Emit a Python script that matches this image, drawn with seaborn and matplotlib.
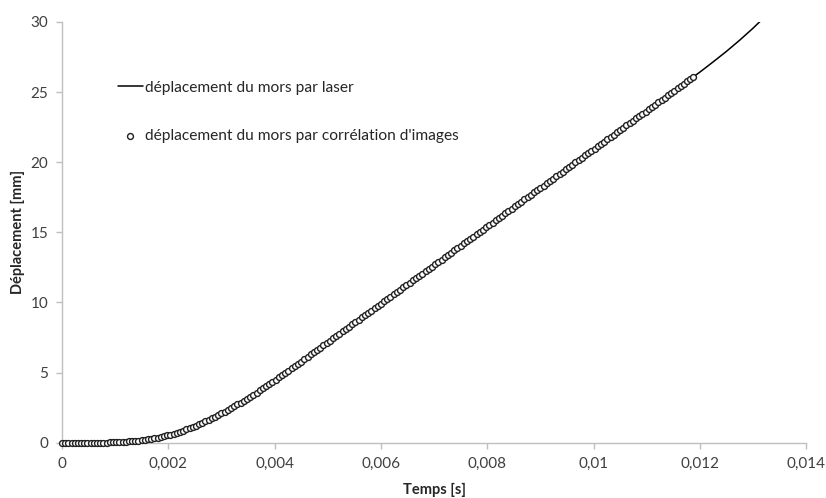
import numpy as np
import pandas as pd
import seaborn as sns
import matplotlib.pyplot as plt
from matplotlib.ticker import FuncFormatter

# laser measurement of the jaw displacement (time in ms, displacement in mm)
laser_t_ms = [0.0, 0.6, 1.0, 1.5, 2.0, 2.5, 3.0, 3.5, 4.0, 4.5, 5.0, 6.0, 7.0, 8.0,
              9.0, 10.0, 11.0, 12.0, 12.25, 12.5, 12.75, 13.0, 13.15]
laser_d = [0.0, 0.0, 0.03, 0.18, 0.54, 1.19, 2.09, 3.19, 4.45, 5.79, 7.17, 9.92, 12.67, 15.42,
           18.17, 20.92, 23.67, 26.42, 27.15, 27.9, 28.7, 29.55, 30.1]

# image correlation (one value per camera frame)
dic_t_ms = [
    0.00, 0.06, 0.12, 0.18, 0.24, 0.30, 0.36, 0.42, 0.48, 0.54,
    0.60, 0.66, 0.72, 0.78, 0.84, 0.90, 0.96, 1.02, 1.08, 1.14,
    1.20, 1.26, 1.32, 1.38, 1.44, 1.50, 1.56, 1.62, 1.68, 1.74,
    1.80, 1.86, 1.92, 1.98, 2.04, 2.10, 2.16, 2.22, 2.28, 2.34,
    2.40, 2.46, 2.52, 2.58, 2.64, 2.70, 2.76, 2.82, 2.88, 2.94,
    3.00, 3.06, 3.12, 3.18, 3.24, 3.30, 3.36, 3.42, 3.48, 3.54,
    3.60, 3.66, 3.72, 3.78, 3.84, 3.90, 3.96, 4.02, 4.08, 4.14,
    4.20, 4.26, 4.32, 4.38, 4.44, 4.50, 4.56, 4.62, 4.68, 4.74,
    4.80, 4.86, 4.92, 4.98, 5.04, 5.10, 5.16, 5.22, 5.28, 5.34,
    5.40, 5.46, 5.52, 5.58, 5.64, 5.70, 5.76, 5.82, 5.88, 5.94,
    6.00, 6.06, 6.12, 6.18, 6.24, 6.30, 6.36, 6.42, 6.48, 6.54,
    6.60, 6.66, 6.72, 6.78, 6.84, 6.90, 6.96, 7.02, 7.08, 7.14,
    7.20, 7.26, 7.32, 7.38, 7.44, 7.50, 7.56, 7.62, 7.68, 7.74,
    7.80, 7.86, 7.92, 7.98, 8.04, 8.10, 8.16, 8.22, 8.28, 8.34,
    8.40, 8.46, 8.52, 8.58, 8.64, 8.70, 8.76, 8.82, 8.88, 8.94,
    9.00, 9.06, 9.12, 9.18, 9.24, 9.30, 9.36, 9.42, 9.48, 9.54,
    9.60, 9.66, 9.72, 9.78, 9.84, 9.90, 9.96, 10.02, 10.08, 10.14,
    10.20, 10.26, 10.32, 10.38, 10.44, 10.50, 10.56, 10.62, 10.68, 10.74,
    10.80, 10.86, 10.92, 10.98, 11.04, 11.10, 11.16, 11.22, 11.28, 11.34,
    11.40, 11.46, 11.52, 11.58, 11.64, 11.70, 11.76, 11.82, 11.88,
]
dic_d = [
    0.00, 0.00, 0.00, 0.00, 0.00, 0.00, 0.00, 0.00, 0.00, 0.00,
    0.00, 0.00, 0.00, 0.01, 0.01, 0.02, 0.02, 0.03, 0.04, 0.06,
    0.07, 0.09, 0.11, 0.13, 0.15, 0.18, 0.21, 0.24, 0.28, 0.32,
    0.36, 0.41, 0.47, 0.52, 0.58, 0.65, 0.72, 0.79, 0.87, 0.95,
    1.04, 1.13, 1.22, 1.32, 1.42, 1.53, 1.64, 1.75, 1.86, 1.97,
    2.09, 2.21, 2.34, 2.47, 2.60, 2.73, 2.86, 3.00, 3.14, 3.29,
    3.43, 3.58, 3.73, 3.88, 4.03, 4.19, 4.34, 4.50, 4.66, 4.82,
    4.98, 5.14, 5.30, 5.46, 5.63, 5.79, 5.96, 6.12, 6.29, 6.45,
    6.62, 6.78, 6.95, 7.11, 7.28, 7.44, 7.61, 7.77, 7.94, 8.10,
    8.27, 8.43, 8.60, 8.76, 8.93, 9.09, 9.26, 9.42, 9.59, 9.75,
    9.92, 10.08, 10.25, 10.41, 10.58, 10.74, 10.91, 11.07, 11.24, 11.40,
    11.57, 11.73, 11.90, 12.06, 12.23, 12.39, 12.56, 12.72, 12.89, 13.05,
    13.22, 13.38, 13.55, 13.71, 13.88, 14.04, 14.21, 14.37, 14.54, 14.70,
    14.87, 15.03, 15.20, 15.36, 15.53, 15.69, 15.86, 16.02, 16.19, 16.35,
    16.52, 16.68, 16.85, 17.01, 17.18, 17.34, 17.51, 17.67, 17.84, 18.00,
    18.17, 18.33, 18.50, 18.66, 18.83, 18.99, 19.16, 19.32, 19.49, 19.65,
    19.82, 19.98, 20.15, 20.31, 20.48, 20.64, 20.81, 20.97, 21.14, 21.30,
    21.47, 21.63, 21.80, 21.96, 22.13, 22.29, 22.46, 22.62, 22.79, 22.95,
    23.12, 23.28, 23.45, 23.61, 23.78, 23.94, 24.11, 24.27, 24.44, 24.60,
    24.77, 24.93, 25.10, 25.26, 25.43, 25.59, 25.76, 25.92, 26.09,
]

x_ticks = [0, 0.002, 0.004, 0.006, 0.008, 0.01, 0.012, 0.014]
y_ticks = [0, 5, 10, 15, 20, 25, 30]

laser = pd.DataFrame({'t': np.array(laser_t_ms) / 1000, 'd': laser_d})
dic = pd.DataFrame({'t': np.array(dic_t_ms) / 1000, 'd': dic_d})

sns.set_theme(style='white')
plt.rcParams['font.family'] = ['Lato', 'DejaVu Sans']

fig = plt.figure(figsize=(8.26, 4.98), dpi=100)
ax = fig.add_axes([0.075, 0.111, 0.901, 0.845])

sns.lineplot(data=laser, x='t', y='d', ax=ax, color='black', linewidth=1.1,
             label='déplacement du mors par laser')
sns.scatterplot(data=dic, x='t', y='d', ax=ax, marker='o', s=18, facecolor='white',
                edgecolor='#202020', linewidth=1.0, clip_on=False, zorder=3,
                label="déplacement du mors par corrélation d'images")

ax.set_xlim(0, 0.014)
ax.set_ylim(0, 30)
ax.set_xticks(x_ticks)
ax.set_yticks(y_ticks)
ax.xaxis.set_major_formatter(FuncFormatter(lambda v, p: f'{v:g}'.replace('.', ',')))

for s in ['top', 'right']:
    ax.spines[s].set_visible(False)
for s in ['left', 'bottom']:
    ax.spines[s].set_color('#BFBFBF')
    ax.spines[s].set_linewidth(1.0)
ax.tick_params(axis='both', direction='out', length=4, width=1, color='#BFBFBF',
               labelsize=11, labelcolor='#404040', pad=6, bottom=True, left=True)

ax.set_xlabel('Temps [s]', fontsize=10.5, fontweight='bold', color='#262626', labelpad=9)
ax.set_ylabel('Déplacement [mm]', fontsize=10.5, fontweight='bold', color='#262626', labelpad=4)

ax.legend(loc='upper left', bbox_to_anchor=(0.135, 0.85), bbox_transform=fig.transFigure,
          frameon=False, fontsize=11.2, handlelength=1.6, handletextpad=0.15,
          labelspacing=2.2, borderaxespad=0)

fig.savefig('out.png', dpi=100)
